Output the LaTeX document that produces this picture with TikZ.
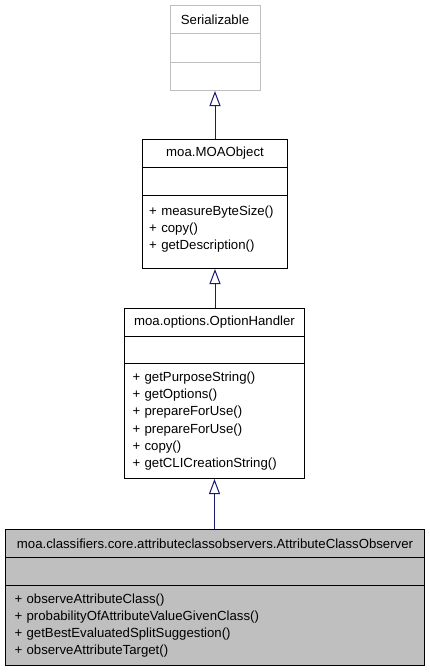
\documentclass[tikz,border=0pt]{standalone}
\usepackage{fontspec}
\setmainfont{Liberation Sans}
\usetikzlibrary{arrows.meta}
\definecolor{edgeblue}{HTML}{191970}
\definecolor{boxgray}{HTML}{BFBFBF}
\definecolor{lightline}{HTML}{BFBFBF}
\tikzset{
  comp/.style={draw, line width=1pt, rectangle, inner sep=0pt, anchor=north west,
    font=\fontsize{13.2}{17.2}\selectfont},
  titlecomp/.style={comp, align=center},
  membcomp/.style={comp, align=left},
  inh/.style={draw=edgeblue, line width=1pt,
    -{Triangle[open, length=15pt, width=11pt, fill=white]}},
}
\begin{document}
\begin{tikzpicture}[x=1pt,y=-1pt]
\useasboundingbox (0,0) rectangle (429,672);
% Serializable
\node[titlecomp, draw=lightline, minimum width=90pt, minimum height=28pt, text width=90pt] (ser-t) at (169.5,5) {Serializable};
\node[comp, draw=lightline, minimum width=90pt, minimum height=29pt] (ser-a) at (169.5,33) {};
\node[comp, draw=lightline, minimum width=90pt, minimum height=28pt] (ser-m) at (169.5,62) {};
% MOAObject
\node[titlecomp, minimum width=145pt, minimum height=28pt, text width=145pt] (moa-t) at (142,139) {moa.MOAObject};
\node[comp, minimum width=145pt, minimum height=28pt] (moa-a) at (142,167) {};
\node[membcomp, minimum width=145pt, minimum height=73pt, text width=131pt] (moa-m) at (142,195) {};
\node[font=\fontsize{13.2}{17.2}\selectfont, align=left, anchor=north west, inner sep=0pt, text width=131pt] (moa-txt) at (149,205.5) {+ measureByteSize()\\+ copy()\\+ getDescription()};
% OptionHandler
\node[titlecomp, minimum width=180pt, minimum height=28pt, text width=180pt] (oh-t) at (124,308) {moa.options.OptionHandler};
\node[comp, minimum width=180pt, minimum height=27pt] (oh-a) at (124,336) {};
\node[membcomp, minimum width=180pt, minimum height=115pt, text width=164pt] (oh-m) at (124,363) {+ getPurposeString()\\+ getOptions()\\+ prepareForUse()\\+ prepareForUse()\\+ copy()\\+ getCLICreationString()};
% AttributeClassObserver
\node[titlecomp, fill=boxgray, minimum width=419pt, minimum height=28pt, text width=419pt] (aco-t) at (5,529) {moa.classifiers.core.attributeclassobservers.AttributeClassObserver};
\node[comp, fill=boxgray, minimum width=419pt, minimum height=28pt] (aco-a) at (5,557) {};
\node[membcomp, fill=boxgray, minimum width=419pt, minimum height=80pt, text width=401pt] (aco-m) at (5,585) {+ observeAttributeClass()\\+ probabilityOfAttributeValueGivenClass()\\+ getBestEvaluatedSplitSuggestion()\\+ observeAttributeTarget()};
% inheritance
\draw[inh] (ser-m.south |- moa-t.north) -- (ser-m.south);
\draw[inh] (moa-m.south |- oh-t.north) -- (moa-m.south);
\draw[inh] (oh-m.south |- aco-t.north) -- (oh-m.south);
\end{tikzpicture}
\end{document}
